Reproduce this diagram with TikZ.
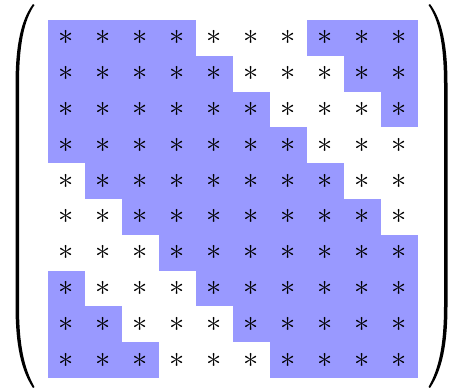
\documentclass[tikz,border=0pt]{standalone}
\definecolor{cellblue}{RGB}{153,153,255}
\begin{document}
\begin{tikzpicture}[x=0.02cm,y=-0.02cm,font=\LARGE,
  cell/.style={minimum width=0.74cm,minimum height=0.716cm,inner sep=0pt,outer sep=0pt},
  band/.style={cell,fill=cellblue},
  paren/.style={fill=black}]
  \useasboundingbox (0,0) rectangle (449,387);
  % 10x10 circulant pattern, blank band at offsets 4..6
  \foreach \i in {1,...,10} \foreach \j in {1,...,10} {
    \pgfmathtruncatemacro\d{mod(\j-\i+10,10)}
    \ifnum\d>3 \ifnum\d<7
      \node[cell] (c-\i-\j) at ({48+37*(\j-0.5)},{20+35.8*(\i-0.5)}) {$*$};
    \else
      \node[band] (c-\i-\j) at ({48+37*(\j-0.5)},{20+35.8*(\i-0.5)}) {$*$};
    \fi
    \else
      \node[band] (c-\i-\j) at ({48+37*(\j-0.5)},{20+35.8*(\i-0.5)}) {$*$};
    \fi
  }
  % big parentheses
  \fill[paren] (33,4) .. controls (21,20) and (15.5,45) .. (15.5,85) -- (15.5,305)
    .. controls (15.5,345) and (21,370) .. (33,388) -- (34.5,387)
    .. controls (24,368) and (19,345) .. (19,305) -- (19,85)
    .. controls (19,45) and (24,20) .. (34.5,5) -- cycle;
  \fill[paren] (430,4) .. controls (442,20) and (447.5,45) .. (447.5,85) -- (447.5,305)
    .. controls (447.5,345) and (442,370) .. (430,388) -- (428.5,387)
    .. controls (439,368) and (444,345) .. (444,305) -- (444,85)
    .. controls (444,45) and (439,20) .. (428.5,5) -- cycle;
\end{tikzpicture}
\end{document}
